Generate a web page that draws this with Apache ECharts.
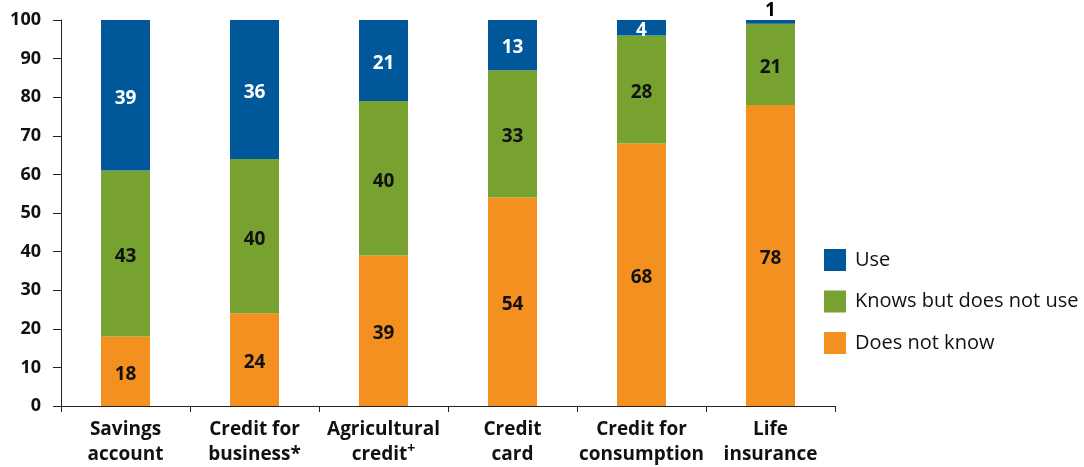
<!DOCTYPE html>
<html>
<head>
<meta charset="utf-8">
<script src="https://cdn.jsdelivr.net/npm/echarts@6/dist/echarts.min.js"></script>
<style>html,body{margin:0;padding:0;background:#fff}#c{width:1084px;height:467px}</style>
</head>
<body>
<div id="c"></div>
<script>
const categories = ['Savings\naccount', 'Credit for\nbusiness*', 'Agricultural\ncredit\u207A', 'Credit\ncard', 'Credit for\nconsumption', 'Life\ninsurance'];
const doesNotKnow = [18, 24, 39, 54, 68, 78];
const knowsNotUse = [43, 40, 40, 33, 28, 21];
const useVals = [39, 36, 21, 13, 4, 1];
const seriesNames = ['Does not know', 'Knows but does not use', 'Use'];
const colors = ['#F39020', '#78A22F', '#00589A'];

const FONT = '"Open Sans", "Noto Sans", sans-serif';
const chart = echarts.init(document.getElementById('c'), null, {renderer: 'canvas'});

function mk(name, data, color, labelColor) {
  return {
    name: name, type: 'bar', stack: 'total', barWidth: 49,
    itemStyle: {color: color},
    label: {show: true, position: 'inside', offset: [0, 3], color: labelColor, fontFamily: FONT, fontWeight: 'bold', fontSize: 19},
    data: data.map(v => v < 3 ? {value: v, label: {position: 'top', offset: [0, 0], color: '#000', distance: 0}} : v),
    emphasis: {disabled: true}
  };
}

chart.setOption({
  animation: false,
  grid: {left: 61, right: 249, top: 20, bottom: 60},
  legend: {
    orient: 'vertical', left: 819, top: 244, itemWidth: 22, itemHeight: 22, itemGap: 19.5,
    icon: 'rect',
    data: ['Use', 'Knows but does not use', 'Does not know'],
    textStyle: {fontFamily: FONT, fontSize: 20, lineHeight: 22, color: '#111', padding: [0, 0, 0, 4]}
  },
  xAxis: {
    type: 'category', data: categories,
    axisLine: {lineStyle: {color: '#222', width: 1}},
    axisTick: {show: true, length: 6, lineStyle: {color: '#222'}},
    axisLabel: {
      fontFamily: FONT, fontWeight: 'bold', fontSize: 19, color: '#111', lineHeight: 25, margin: 11, interval: 0,
      formatter: v => v.replace('\u207A', '{sup|+}'),
      rich: {sup: {fontFamily: FONT, fontWeight: 'bold', fontSize: 14, color: '#111', lineHeight: 25, padding: [0, 0, 10, 0]}}
    }
  },
  yAxis: {
    type: 'value', min: 0, max: 100, interval: 10,
    axisLine: {show: true, lineStyle: {color: '#222', width: 1}},
    axisTick: {show: true, length: 8, lineStyle: {color: '#222'}},
    splitLine: {show: false},
    axisLabel: {fontFamily: FONT, fontWeight: 'bold', fontSize: 18, color: '#111', margin: 20}
  },
  series: [
    mk(seriesNames[0], doesNotKnow, colors[0], '#111'),
    mk(seriesNames[1], knowsNotUse, colors[1], '#111'),
    mk(seriesNames[2], useVals, colors[2], '#fff')
  ]
});
</script>
</body>
</html>
